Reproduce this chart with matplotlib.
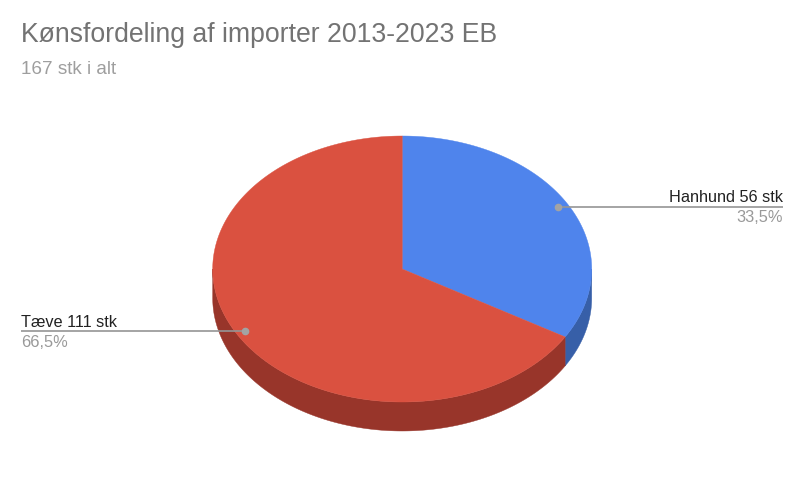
import numpy as np
import matplotlib
matplotlib.use('Agg')
import matplotlib.pyplot as plt

title = 'Kønsfordeling af importer 2013-2023 EB'
subtitle = '167 stk i alt'
labels = ['Hanhund 56 stk', 'Tæve 111 stk']
percents = ['33,5%', '66,5%']
values = [56, 111]

top_colors = ['#4f84ec', '#da5140']
side_colors = ['#375fa8', '#98352a']

plt.rcParams['font.family'] = 'Liberation Sans'

# pie geometry in pixels
cx, cy = 402.2, 269
rx, ry = 189.5, 133
depth = 29

fig = plt.figure(figsize=(8, 4.95), dpi=100)
ax = fig.add_axes([0, 0, 1, 1])
ax.set_xlim(0, 800)
ax.set_ylim(495, 0)
ax.axis('off')

# angles run clockwise from 12 o'clock
shares = np.array(values) / sum(values)
edges = np.concatenate([[0], np.cumsum(shares)]) * 2 * np.pi

# side walls first, only the front half (pi/2 to 3pi/2) shows
for i in range(len(values)):
    a0 = max(edges[i], np.pi / 2)
    a1 = min(edges[i + 1], 3 * np.pi / 2)
    if a1 <= a0:
        continue
    t = np.linspace(a0, a1, 200)
    x = cx + rx * np.sin(t)
    y = cy - ry * np.cos(t)
    ax.fill(np.r_[x, x[::-1]], np.r_[y, y[::-1] + depth],
            color=side_colors[i], lw=0.3, zorder=1)

# top faces
for i in range(len(values)):
    t = np.linspace(edges[i], edges[i + 1], 300)
    x = np.r_[cx, cx + rx * np.sin(t)]
    y = np.r_[cy, cy - ry * np.cos(t)]
    ax.fill(x, y, color=top_colors[i], lw=0.3, zorder=2)

# leader lines and labels
ax.plot([558, 783], [206.5, 206.5], color='#959595', lw=1.2, zorder=3, solid_capstyle='butt')
ax.plot([558], [206.5], 'o', color='#a3a3a3', ms=4.5, zorder=4)
ax.text(783, 202, labels[0], ha='right', va='baseline', fontsize=11.7, color='#222222')
ax.text(783, 222, percents[0], ha='right', va='baseline', fontsize=11.8, color='#999999')

ax.plot([21, 245], [331, 331], color='#959595', lw=1.2, zorder=3, solid_capstyle='butt')
ax.plot([245], [331], 'o', color='#a3a3a3', ms=4.5, zorder=4)
ax.text(21, 327, labels[1], ha='left', va='baseline', fontsize=11.7, color='#222222')
ax.text(21, 347, percents[1], ha='left', va='baseline', fontsize=11.8, color='#999999')

ax.text(21, 42, title, ha='left', va='baseline', fontsize=19.2, color='#737373')
ax.text(21, 74, subtitle, ha='left', va='baseline', fontsize=13.6, color='#9e9e9e')

fig.savefig('out.png', dpi=100)
